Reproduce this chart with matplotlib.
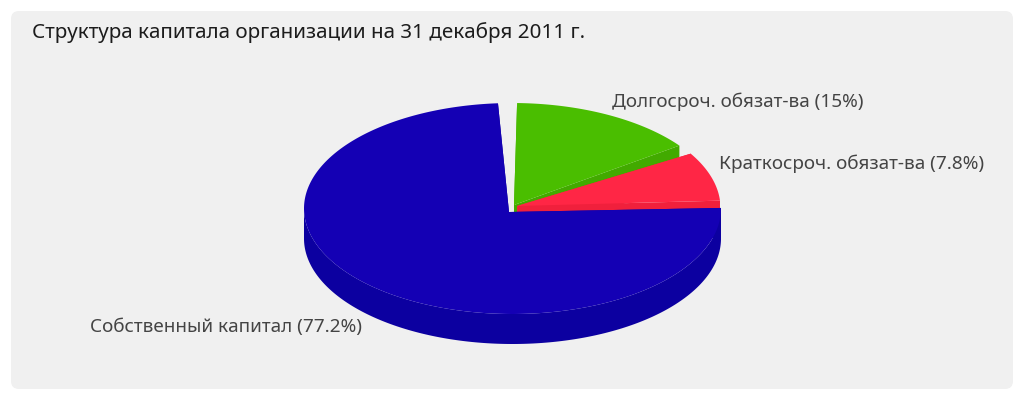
import matplotlib
matplotlib.use("Agg")
import matplotlib.pyplot as plt
from matplotlib.patches import FancyBboxPatch
import numpy as np

plt.rcParams["font.family"] = ["Noto Sans", "DejaVu Sans"]

title = "Структура капитала организации на 31 декабря 2011 г."
names = ["Долгосроч. обязат-ва", "Краткосроч. обязат-ва", "Собственный капитал"]
shares = [15, 7.8, 77.2]
arc_deg = [52, 27, 266.3]
start_deg = [36.6, 4, 94]

top_colors = ["#4ABE00", "#FF2645", "#1400B4"]
side_colors = ["#42AA00", "#F0203C", "#0C00A0"]
rim_centers = [(512, 208.5), (512, 208), (512.5, 208.5)]
apexes = [(514, 205), (517, 206), (509, 212)]
label_pos = [(612, 102), (719, 164), (90, 327)]

RX, RY, DEPTH = 208.5, 105.5, 30


def rim(center, t):
    return center[0] + RX * np.cos(t), center[1] - RY * np.sin(t)


def draw_slice(ax, start, arc, center, apex, top, side):
    t = np.radians(np.linspace(start, start + arc, 300))
    x, y = rim(center, t)

    # outer wall, only the part facing the viewer
    front = np.sin(t) <= 0
    if front.any():
        fx, fy = x[front], y[front]
        ax.fill(np.r_[fx, fx[::-1]], np.r_[fy, fy[::-1] + DEPTH], color=side, lw=0)

    # cut faces
    for ex, ey in [(x[0], y[0]), (x[-1], y[-1])]:
        ax.fill([apex[0], ex, ex, apex[0]],
                [apex[1], ey, ey + DEPTH, apex[1] + DEPTH], color=side, lw=0)

    ax.fill(np.r_[apex[0], x], np.r_[apex[1], y], color=top, lw=0)


def main():
    fig = plt.figure(figsize=(10.24, 4), dpi=100, facecolor="white")
    ax = fig.add_axes([0, 0, 1, 1])
    ax.set_xlim(0, 1024)
    ax.set_ylim(400, 0)
    ax.axis("off")

    ax.add_patch(FancyBboxPatch((19, 19), 986, 362, boxstyle="round,pad=8,rounding_size=8",
                                fc="#F0F0F0", ec="none"))

    # red sits over green, blue over both
    for i in range(3):
        draw_slice(ax, start_deg[i], arc_deg[i], rim_centers[i], apexes[i],
                   top_colors[i], side_colors[i])

    ax.text(32, 32.5, title, fontsize=14.85, color="#1C1C1C", va="center", ha="left")
    for name, share, pos in zip(names, shares, label_pos):
        ax.text(pos[0], pos[1], f"{name} ({share:g}%)", fontsize=13.65, color="#444444",
                va="center", ha="left")

    fig.savefig("out.png", dpi=100)


if __name__ == "__main__":
    main()
